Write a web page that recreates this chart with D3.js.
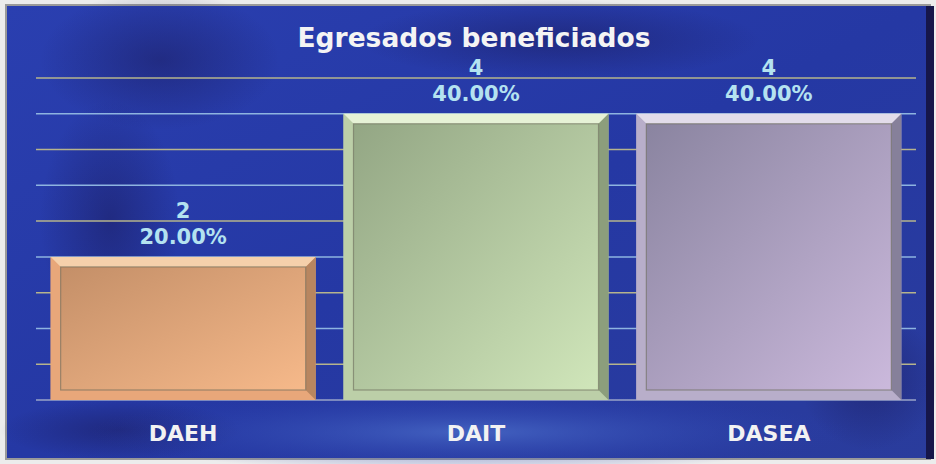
<!DOCTYPE html>
<html>
<head>
<meta charset="utf-8">
<script src="https://cdn.jsdelivr.net/npm/d3@7"></script>
<style>
  body { margin: 0; background: #ececec; }
  svg { display: block; }
  text { font-family: "DejaVu Sans", Verdana, sans-serif; font-weight: bold; }
</style>
</head>
<body>
<div id="chart"></div>
<script>
// data
var categories = ["DAEH", "DAIT", "DASEA"];
var counts = [2, 4, 4];
var percents = ["20.00%", "40.00%", "40.00%"];
var gridTicks = [0.5, 1, 1.5, 2, 2.5, 3, 3.5, 4, 4.5];

var barColors = [
  {dark: "#c48f68", light: "#f6b98a", top: "#f5d0ab", side: "#b88660", rim: "#e8a77a"},
  {dark: "#93a684", light: "#d0e6ba", top: "#e6f2d6", side: "#8c9e7c", rim: "#bccfa8"},
  {dark: "#8a84a0", light: "#cbb9dc", top: "#e2dcea", side: "#86809a", rim: "#b8aeca"}
];

var svgWidth = 936;
var svgHeight = 464;
var margin = {top: 78, right: 20, bottom: 64, left: 36};
var width = 916 - margin.left;
var height = 400 - margin.top;

var svg = d3.select("#chart")
  .append("svg")
  .attr("width", svgWidth)
  .attr("height", svgHeight);

var defs = svg.append("defs");

// background gradients
var bg = defs.append("linearGradient").attr("id", "bg")
  .attr("x1", "0").attr("y1", "0").attr("x2", "1").attr("y2", "1");
bg.append("stop").attr("offset", "0").attr("stop-color", "#2a3fb0");
bg.append("stop").attr("offset", "0.5").attr("stop-color", "#2538a4");
bg.append("stop").attr("offset", "1").attr("stop-color", "#2a3c9c");

var spot = defs.append("radialGradient").attr("id", "spot")
  .attr("cx", "0.5").attr("cy", "0.5").attr("r", "0.5");
spot.append("stop").attr("offset", "0").attr("stop-color", "#4a6cc8").attr("stop-opacity", 0.8);
spot.append("stop").attr("offset", "1").attr("stop-color", "#2a3fb0").attr("stop-opacity", 0);

var dark = defs.append("radialGradient").attr("id", "dark")
  .attr("cx", "0.5").attr("cy", "0.5").attr("r", "0.5");
dark.append("stop").attr("offset", "0").attr("stop-color", "#1a1a5a").attr("stop-opacity", 0.5);
dark.append("stop").attr("offset", "1").attr("stop-color", "#1a1a5a").attr("stop-opacity", 0);

var blur = defs.append("filter").attr("id", "glow")
  .attr("x", "-5%").attr("y", "-200%").attr("width", "110%").attr("height", "500%");
blur.append("feGaussianBlur").attr("stdDeviation", 3);

svg.append("rect")
  .attr("x", 6).attr("y", 5)
  .attr("width", 924).attr("height", 454)
  .attr("fill", "url(#bg)")
  .attr("stroke", "#9a9a9a")
  .attr("stroke-width", 2);

// dark streaks
[[160, 60, 120, 70], [110, 220, 70, 120], [560, 40, 200, 40], [870, 380, 70, 70], [120, 430, 120, 30]].forEach(function(e) {
  svg.append("ellipse")
    .attr("cx", e[0]).attr("cy", e[1]).attr("rx", e[2]).attr("ry", e[3])
    .attr("fill", "url(#dark)");
});
svg.append("ellipse")
  .attr("cx", 470).attr("cy", 432).attr("rx", 380).attr("ry", 40)
  .attr("fill", "url(#spot)");
svg.append("rect")
  .attr("x", 926).attr("y", 6).attr("width", 8).attr("height", 453)
  .attr("fill", "#16164a");

var chartGroup = svg.append("g")
  .attr("transform", `translate(${margin.left}, ${margin.top})`);

var xScale = d3.scaleBand()
  .domain(categories)
  .range([0, width])
  .paddingInner(0.095)
  .paddingOuter(0.05);

var yScale = d3.scaleLinear()
  .domain([0, 4.5])
  .range([height, 0]);

// gridlines with glow
chartGroup.selectAll(".glow")
  .data(gridTicks).enter()
  .append("line")
  .attr("x1", 0).attr("x2", width)
  .attr("y1", d => yScale(d)).attr("y2", d => yScale(d))
  .attr("stroke", "#5a8ae8")
  .attr("stroke-width", 6)
  .attr("opacity", 0.7)
  .attr("filter", "url(#glow)");

chartGroup.selectAll(".grid")
  .data(gridTicks).enter()
  .append("line")
  .attr("x1", 0).attr("x2", width)
  .attr("y1", d => yScale(d)).attr("y2", d => yScale(d))
  .attr("stroke", (d, i) => i % 2 === 0 ? "#b6b48c" : "#8eb4e0")
  .attr("stroke-width", 1.5);

chartGroup.append("line")
  .attr("x1", 0).attr("x2", width)
  .attr("y1", yScale(0)).attr("y2", yScale(0))
  .attr("stroke", "#9aa4c8")
  .attr("stroke-width", 1.5);

// bars
var bev = 10;
categories.forEach(function(c, i) {
  var col = barColors[i];
  var x0 = xScale(c);
  var x1 = x0 + xScale.bandwidth();
  var y0 = yScale(counts[i]);
  var y1 = yScale(0);

  var g = defs.append("linearGradient").attr("id", "bar" + i)
    .attr("x1", "0").attr("y1", "0").attr("x2", "1").attr("y2", "1");
  g.append("stop").attr("offset", "0").attr("stop-color", col.dark);
  g.append("stop").attr("offset", "1").attr("stop-color", col.light);

  var bar = chartGroup.append("g");
  bar.append("rect")
    .attr("x", x0).attr("y", y0)
    .attr("width", x1 - x0).attr("height", y1 - y0)
    .attr("fill", col.rim);
  // top bevel
  bar.append("polygon")
    .attr("points", [[x0, y0], [x1, y0], [x1 - bev, y0 + bev], [x0 + bev, y0 + bev]].join(" "))
    .attr("fill", col.top);
  // right bevel (shadow)
  bar.append("polygon")
    .attr("points", [[x1, y0], [x1, y1], [x1 - bev, y1 - bev], [x1 - bev, y0 + bev]].join(" "))
    .attr("fill", col.side);
  // left bevel
  bar.append("polygon")
    .attr("points", [[x0, y0], [x0 + bev, y0 + bev], [x0 + bev, y1 - bev], [x0, y1]].join(" "))
    .attr("fill", col.rim);
  bar.append("rect")
    .attr("x", x0 + bev).attr("y", y0 + bev)
    .attr("width", x1 - x0 - 2 * bev).attr("height", y1 - y0 - 2 * bev)
    .attr("fill", "url(#bar" + i + ")")
    .attr("stroke", "#6a6a5a")
    .attr("stroke-opacity", 0.6)
    .attr("stroke-width", 1.2);
});

// value labels
chartGroup.selectAll(".pct")
  .data(categories).enter()
  .append("text")
  .attr("x", d => xScale(d) + xScale.bandwidth() / 2)
  .attr("y", (d, i) => yScale(counts[i]) - 13)
  .attr("text-anchor", "middle")
  .attr("font-size", 21)
  .attr("fill", "#b4e2f0")
  .text((d, i) => percents[i]);

chartGroup.selectAll(".cnt")
  .data(categories).enter()
  .append("text")
  .attr("x", d => xScale(d) + xScale.bandwidth() / 2)
  .attr("y", (d, i) => yScale(counts[i]) - 39)
  .attr("text-anchor", "middle")
  .attr("font-size", 21)
  .attr("fill", "#b4e2f0")
  .text((d, i) => counts[i]);

// category labels
chartGroup.selectAll(".cat")
  .data(categories).enter()
  .append("text")
  .attr("x", d => xScale(d) + xScale.bandwidth() / 2)
  .attr("y", height + 41)
  .attr("text-anchor", "middle")
  .attr("font-size", 22)
  .attr("fill", "#f2f2f2")
  .text(d => d);

// title
svg.append("text")
  .attr("x", 474)
  .attr("y", 47)
  .attr("text-anchor", "middle")
  .attr("font-size", 26.5)
  .attr("fill", "#f4f4f4")
  .text("Egresados beneficiados");
</script>
</body>
</html>
